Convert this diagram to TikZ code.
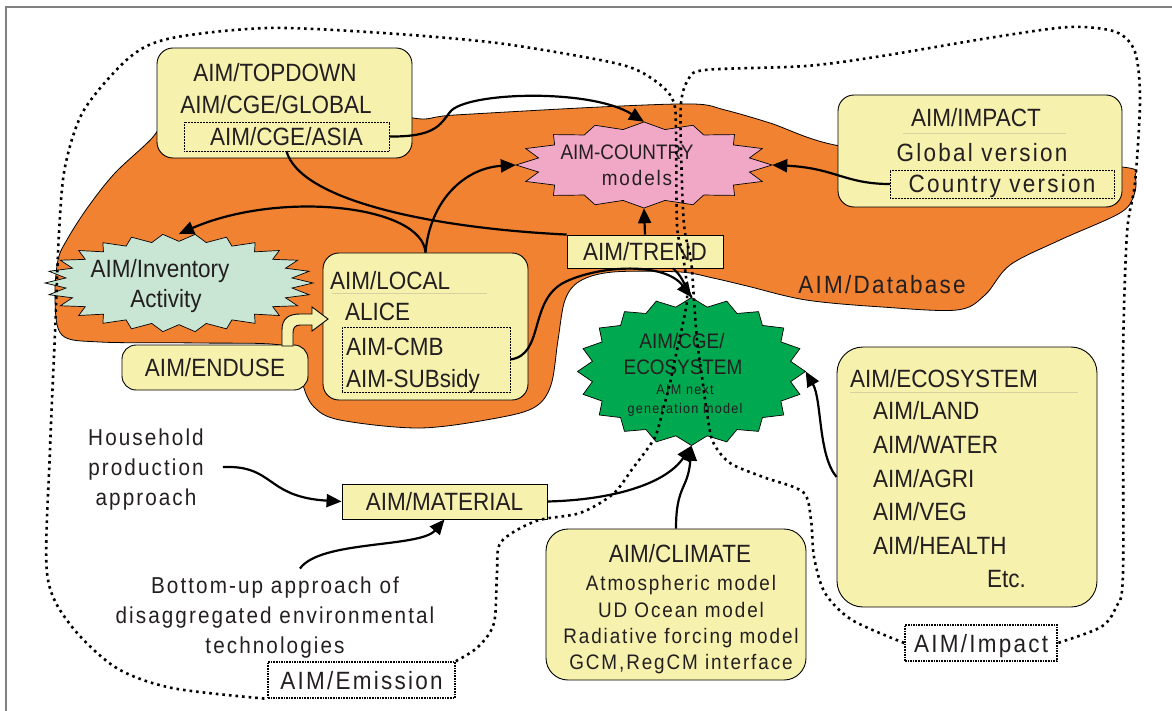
\documentclass[tikz,border=0pt]{standalone}
\usepackage{fontspec}
\setmainfont{Liberation Sans}[FakeStretch=0.9]
\newfontfamily\trackfont{Liberation Sans}[FakeStretch=0.9,LetterSpace=9]
\usetikzlibrary{arrows.meta,shapes.geometric,positioning,calc}

\definecolor{dbase}{RGB}{240,130,50}
\definecolor{boxfill}{RGB}{247,241,174}
\definecolor{pinkburst}{RGB}{241,167,198}
\definecolor{paleburst}{RGB}{201,230,212}
\definecolor{greenburst}{RGB}{0,168,79}
\definecolor{inktext}{RGB}{35,31,32}
\definecolor{sepline}{RGB}{215,208,160}

\newcommand{\bigf}{\fontsize{25}{32}\selectfont}
\newcommand{\medf}{\fontsize{23}{28}\selectfont\trackfont}
\newcommand{\midf}{\fontsize{21}{26}\selectfont}
\newcommand{\smallf}{\fontsize{14}{19}\selectfont\trackfont}

% spiky outline round a centre: style, centre, rx, ry, points, depth
\newcommand{\starburst}[6]{%
  \pgfmathtruncatemacro{\burstlast}{2*#5-1}%
  \filldraw[#1, line width=0.7pt, shift={(#2)}] plot[samples at={0,...,\burstlast}, variable=\k]
    ({#3*(1-#6*mod(\k,2))*cos(\k*180/#5)}, {#4*(1-#6*mod(\k,2))*sin(\k*180/#5)}) -- cycle;}

\begin{document}
\begin{tikzpicture}[x=1pt, y=-1pt, font=\bigf, text=inktext,
  box/.style={draw, fill=boxfill, rounded corners=16pt, line width=0.9pt},
  flatbox/.style={draw, fill=boxfill, line width=0.9pt, inner sep=0pt, text height=18pt, text depth=0pt},
  dotbox/.style={draw, densely dotted, line width=0.5pt, inner sep=0pt, text height=18pt, text depth=0pt},
  lbl/.style={inner sep=0pt, text height=18pt, text depth=0pt},
  trk/.style={lbl, font=\bigf\trackfont},
  lblmed/.style={inner sep=0pt, font=\medf, text height=16.5pt, text depth=0pt},
  lblmid/.style={inner sep=0pt, font=\midf, text height=15pt, text depth=0pt},
  lblsmall/.style={inner sep=0pt, font=\smallf, text height=10pt, text depth=0pt},
  burstnode/.style={ellipse, inner sep=0pt},
  flow/.style={-{Triangle[length=15pt,width=13pt]}, line width=2.2pt},
  plainflow/.style={line width=2.2pt},
  border/.style={line width=2.6pt, dash pattern=on 2.6pt off 4pt},
  sep/.style={line width=1pt, sepline}]

  \useasboundingbox (0,0) rectangle (1172,711);
  \draw[gray, line width=1.2pt] (6,711) -- (6,7) -- (1172,7);

  % database area
  \filldraw[fill=dbase, draw=black, line width=0.8pt] plot[smooth cycle, tension=0.55] coordinates {
    (200,95) (330,95) (413,118) (455,115) (600,107) (693,104) (725,110) (770,123) (840,146)
    (980,160) (1122,167) (1135,177) (1134,195) (1120,213) (1060,240) (1010,265) (985,295)
    (957,310) (882,307) (806,300) (747,286) (713,278) (680,272) (613,272) (580,281) (565,300)
    (558,340) (551,385) (535,407) (497,418) (420,428) (340,420) (314,407) (303,385) (300,360)
    (280,345) (200,343) (100,342) (62,335) (55,300) (58,260) (68,238) (88,207) (115,173)
    (153,137) (170,110)};
  \node[trk] (dblabel) at (882,284) {AIM/Database};

  % bursts
  \coordinate (invc) at (179,283);
  \coordinate (countryc) at (644,165);
  \coordinate (ecoc) at (691.5,371.5);
  \starburst{fill=paleburst}{invc}{134}{49}{26}{0.15}
  \starburst{fill=pinkburst}{countryc}{128}{43}{16}{0.16}
  \starburst{fill=greenburst}{ecoc}{114}{74}{20}{0.12}
  \node[burstnode, minimum width=268, minimum height=98] (inventory) at (invc) {};
  \node[lbl] (invtitle) at (160,268) {AIM/Inventory};
  \node[lbl] (activity) at (166,298) {Activity};
  \node[burstnode, minimum width=256, minimum height=86] (country) at (countryc) {};
  \node[lblmid] (countrytitle) at (627,152) {AIM-COUNTRY};
  \node[lblmid, font=\midf\trackfont] (models) at (637,178) {models};
  \node[burstnode, minimum width=228, minimum height=148] (ecocge) at (ecoc) {};
  \node[lblmid] (cgetitle) at (682,341) {AIM/CGE/};
  \node[lblmid] (cgeeco) at (683,367) {ECOSYSTEM};
  \node[lblsmall] (nextgen) at (685,389) {AIM next};
  \node[lblsmall] (genmodel) at (685,408) {generation model};

  % top down box
  \node[box, minimum width=255, minimum height=110] (topdown) at (284.5,103) {};
  \node[lbl] (tdtitle) at (275,73) {AIM/TOPDOWN};
  \node[lbl] (cgeglobal) at (276,105) {AIM/CGE/GLOBAL};
  \node[dotbox, minimum width=205, minimum height=29] (asia) at (286.5,136.5) {AIM/CGE/ASIA};

  % impact box
  \node[box, minimum width=284, minimum height=112] (impact) at (980,151) {};
  \node[lbl] (imptitle) at (976,118) {AIM/IMPACT};
  \draw[sep] (903,134) -- (1066,134);
  \node[trk] (globalver) at (982,153) {Global version};
  \node[dotbox, font=\bigf\trackfont, minimum width=224, minimum height=28] (countryver) at (1002,184) {Country version};

  % trend, local, enduse
  \node[flatbox, minimum width=156, minimum height=33] (trend) at (645,251.5) {AIM/TREND};
  \node[box, minimum width=205, minimum height=147] (local) at (425.5,326.5) {};
  \node[lbl, anchor=west] (localtitle) at (330,280) {AIM/LOCAL};
  \draw[sep] (332,293) -- (487,293);
  \node[lbl, anchor=west] (alice) at (345,311) {ALICE};
  \node[dotbox, minimum width=168, minimum height=65] (cmbbox) at (426,359.5) {};
  \node[lbl, anchor=west] (cmb) at (346,346) {AIM-CMB};
  \node[lbl, anchor=west] (subsidy) at (346,378) {AIM-SUBsidy};
  \node[box, rounded corners=14pt, minimum width=186, minimum height=45, lbl] (enduse) at (215,367.5) {AIM/ENDUSE};

  % ecosystem box
  \node[box, rounded corners=26pt, minimum width=260, minimum height=260] (ecobox) at (967,477) {};
  \node[lbl, anchor=west] (ecotitle) at (850,378) {AIM/ECOSYSTEM};
  \draw[sep] (850,392) -- (1078,392);
  \node[lbl, anchor=west] (land) at (873,410) {AIM/LAND};
  \node[lbl, anchor=west] (water) at (873,444) {AIM/WATER};
  \node[lbl, anchor=west] (agri) at (873,478) {AIM/AGRI};
  \node[lbl, anchor=west] (veg) at (873,511) {AIM/VEG};
  \node[lbl, anchor=west] (health) at (873,545) {AIM/HEALTH};
  \node[lbl, anchor=west] (etc) at (987,578) {Etc.};

  % material and its inputs
  \node[flatbox, minimum width=205, minimum height=35] (material) at (444.5,501.5) {AIM/MATERIAL};
  \node[lblmed] (household) at (146,437) {Household};
  \node[lblmed] (production) at (146,467) {production};
  \node[lblmed] (approach) at (146,497) {approach};
  \node[lblmed] (bottomup) at (275,585) {Bottom-up approach of};
  \node[lblmed] (disagg) at (275,615) {disaggregated environmental};
  \node[lblmed] (technologies) at (275,645) {technologies};

  % climate box
  \node[box, rounded corners=22pt, minimum width=260, minimum height=151] (climate) at (676,604.5) {};
  \node[lbl] (climtitle) at (680,553) {AIM/CLIMATE};
  \node[lblmid, font=\midf\trackfont] (atmos) at (681,583) {Atmospheric model};
  \node[lblmid, font=\midf\trackfont] (ocean) at (681,610) {UD Ocean model};
  \node[lblmid, font=\midf\trackfont] (forcing) at (681,636) {Radiative forcing model};
  \node[lblmid, font=\midf\trackfont] (gcm) at (681,662) {GCM,RegCM interface};

  % model boundaries labels
  \node[dotbox, font=\bigf\trackfont, minimum width=187, minimum height=36, line width=1.6pt] (emission) at (361.5,680) {AIM/Emission};
  \node[dotbox, font=\bigf\trackfont, minimum width=152, minimum height=36, line width=1.6pt] (impactlbl) at (981,643) {AIM/Impact};

  % links
  \draw[flow] (asia.east) .. controls (435,137) and (440,125) .. (450,112) .. controls (465,92) and (590,88) .. (country.north);
  \draw[plainflow] (asia.south) .. controls (300,200) and (430,228) .. (trend.north west);
  \draw[flow] (local.north) .. controls (422,205) and (280,190) .. (inventory.north);
  \draw[flow] (local.north) .. controls (430,200) and (465,168) .. (country.west);
  \draw[flow] (countryver.west) .. controls (845,184) and (835,168) .. (country.east);
  \draw[flow] (trend.north) -- (country.south);
  \draw[flow] (cmbbox.east) .. controls (545,355) and (528,300) .. (565,282) .. controls (600,265) and (665,262) .. (ecocge.north);
  \draw[plainflow] ([xshift=28pt]trend.south) .. controls (680,275) .. (ecocge.north);
  \draw[flow] (material.east) .. controls (610,500) and (665,485) .. (ecocge.south);
  \draw[flow] (climate.north) .. controls (676,485) and (688,490) .. (ecocge.south);
  \draw[flow] (ecobox.west) .. controls (818,455) and (822,400) .. (ecocge.east);
  \draw[flow] ([xshift=19pt]production.east) .. controls (275,465) and (265,497) .. (material.west);
  \draw[flow] ([xshift=25pt,yshift=8pt]bottomup.north) .. controls (320,540) and (420,548) .. (material.south);

  % hollow arrow enduse -> local
  \filldraw[fill=boxfill, draw=black, line width=0.9pt] (282,346) -- (282,330) .. controls (282,319) and (288,314) .. (300,314)
    -- (312,314) -- (312,307) -- (328,319) -- (312,331) -- (312,325) -- (300,325)
    .. controls (295,325) and (293,328) .. (293,333) -- (293,346) -- cycle;

  % emission and impact boundaries
  \draw[border] plot[smooth] coordinates {(emission.north east) (478,647) (494,623) (497,573) (501,542)
    (536,521) (580,513) (613,494) (633,468) (648,448) (656,435) (663,410) (670,383) (677,350)
    (683,323) (687,300) (686,277) (682,250) (677,225) (676,130) (674,103) (663,87) (637,70)
    (600,60) (497,43) (383,33) (268,28) (172,38) (130,57) (84,110) (65,167) (59,233) (55,333)
    (50,450) (47,573) (69,623) (115,667) (172,688) (emission.south west)};
  \draw[border] plot[smooth] coordinates {(impactlbl.west) (852,620) (825,593) (814,557) (811,520)
    (803,492) (763,477) (730,463) (713,442) (707,413) (702,377) (697,340) (694,300) (691,260)
    (684,225) (681,150) (681,103) (688,80) (705,70) (806,66) (882,56) (995,37) (1070,27)
    (1116,32) (1135,52) (1140,100) (1135,183) (1127,233) (1123,360) (1123,573) (1116,607)
    (1101,627) (impactlbl.east)};
\end{tikzpicture}
\end{document}
